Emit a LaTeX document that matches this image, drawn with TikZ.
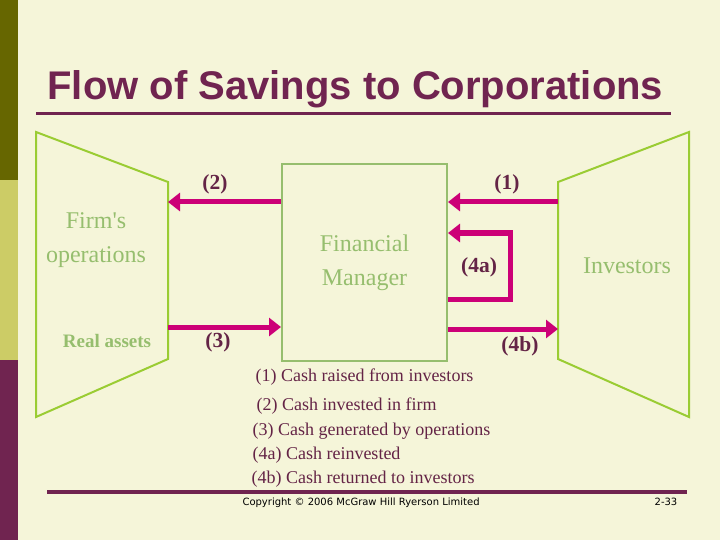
\documentclass[tikz,border=0pt]{standalone}
\usepackage{fontspec}
\setmainfont{Liberation Serif}
\setsansfont{Liberation Sans}
\newfontfamily\smallsans{DejaVu Sans}
\usepackage{xcolor}
\definecolor{bgcream}{RGB}{245,245,217}
\definecolor{barolive}{RGB}{102,102,0}
\definecolor{barkhaki}{RGB}{204,204,102}
\definecolor{plum}{RGB}{112,36,80}
\definecolor{edgegreen}{RGB}{154,204,51}
\definecolor{textgreen}{RGB}{150,190,110}
\definecolor{flowpink}{RGB}{204,0,119}
\definecolor{labelplum}{RGB}{100,36,70}
\usetikzlibrary{arrows.meta,positioning,calc}

\begin{document}
\begin{tikzpicture}[x=1pt,y=-1pt,
  flow/.style={line width=5pt,flowpink,-{Triangle[length=12pt,width=18pt]}},
  edge/.style={line width=2pt,edgegreen,line join=miter},
  flowlabel/.style={font=\fontsize{21.5}{24}\selectfont\bfseries,labelplum},
  greentext/.style={font=\fontsize{24}{34}\selectfont,textgreen,align=center},
  legend/.style={font=\fontsize{18}{22}\selectfont,labelplum,anchor=base west}]
  % page and side bars
  \fill[bgcream] (0,0) rectangle (720,540);
  \fill[barolive] (0,0) rectangle (18,180);
  \fill[barkhaki] (0,180) rectangle (18,360);
  \fill[plum] (0,360) rectangle (18,540);
  \useasboundingbox (0,0) rectangle (720,540);
  % title
  \node[font=\fontsize{40}{44}\selectfont\sffamily\bfseries,plum,anchor=base west] (title) at (44,100) {Flow of Savings to Corporations};
  \draw[line width=3pt,plum] (36,114) -- (671,114);
  % firm, manager, investors
  \draw[edge] (36,132) -- (168,182) -- (168,359) -- (36,417) -- cycle;
  \draw[edge] (689,132) -- (558,182) -- (558,359) -- (689,417) -- cycle;
  \node[draw=edgegreen,line width=2pt,minimum width=165pt,minimum height=197pt,greentext,inner sep=0pt] (fm) at (364.5,262.5) {Financial\\Manager};
  \node[greentext] (firm) at (96,240) {Firm\textquotesingle s\\operations};
  \node[font=\fontsize{19}{22}\selectfont\bfseries,textgreen] (real) at (107,341) {Real assets};
  \node[greentext] (inv) at (627,266) {Investors};
  % flows
  \coordinate (firm2) at (168,202);
  \coordinate (firm3) at (168,327);
  \coordinate (inv1) at (558,202);
  \coordinate (inv4) at (558,329);
  \coordinate (loopa) at (510,299);
  \coordinate (loopb) at (510,233);
  \draw[flow] (fm.west |- firm2) -- (firm2);
  \draw[flow] (firm3) -- (fm.west |- firm3);
  \draw[flow] (inv1) -- (fm.east |- inv1);
  \draw[flow] (fm.east |- inv4) -- (inv4);
  \draw[flow,line join=miter] (fm.east |- loopa) -- (loopa) -- (loopb) -- (fm.east |- loopb);
  \node[flowlabel] (l2) at (215,184) {(2)};
  \node[flowlabel] (l3) at (218,342) {(3)};
  \node[flowlabel] (l1) at (507,184) {(1)};
  \node[flowlabel] (l4a) at (479,267) {(4a)};
  \node[flowlabel] (l4b) at (520,346) {(4b)};
  % legend
  \node[legend] (k1) at (252,381) {(1) Cash raised from investors};
  \node[legend] (k2) at (253,410) {(2) Cash invested in firm};
  \node[legend] (k3) at (249,435) {(3) Cash generated by operations};
  \node[legend] (k4a) at (249,459) {(4a) Cash reinvested};
  \node[legend] (k4b) at (248,483) {(4b) Cash returned to investors};
  % footer
  \draw[line width=4pt,plum] (47,492) -- (687,492);
  \node[font=\fontsize{10}{12}\selectfont\smallsans,anchor=west] (copy) at (239,503) {Copyright © 2006 McGraw Hill Ryerson Limited};
  \node[font=\fontsize{10}{12}\selectfont\smallsans] (page) at (666,502) {2-33};
\end{tikzpicture}
\end{document}
